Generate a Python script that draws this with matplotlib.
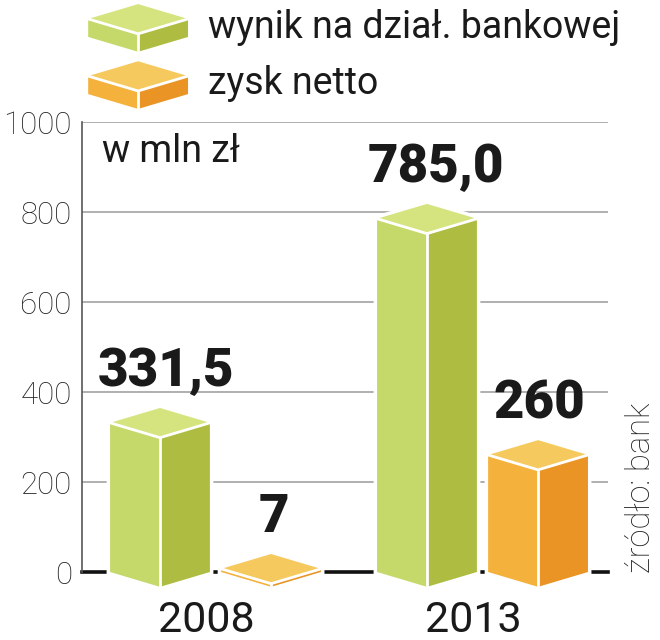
import matplotlib
matplotlib.use("Agg")
import matplotlib.pyplot as plt
from matplotlib.patches import Polygon

plt.rcParams['font.family'] = ['Roboto', 'DejaVu Sans']

years = ["2008", "2013"]
wynik = [331.5, 785.0]
zysk = [7, 260]
wynik_labels = ["331,5", "785,0"]
zysk_labels = ["7", "260"]
y_ticks = [0, 200, 400, 600, 800, 1000]
legend_names = ["wynik na dział. bankowej", "zysk netto"]

green = ("#d6e47f", "#c5d96b", "#aebd42")
orange = ("#f6c95e", "#f4b13c", "#e99425")

W, H = 660, 640
half = 0.187      # half a bar width, in group spacings
off = 0.208       # bar centre from group centre
depth = 33        # how far the top face goes up/down, in chart units


def block(ax, c, base, top, colors, halo=True):
    # one fake 3d block: top face, two side faces, white seams
    hw = half
    if halo:
        ax.add_patch(Polygon([(c-hw, base), (c-hw, top), (c, top+depth), (c+hw, top),
                              (c+hw, base), (c, base-depth)], fc='white', ec='white',
                             lw=5, clip_on=False, zorder=3))
    ax.add_patch(Polygon([(c-hw, top), (c, top+depth), (c+hw, top), (c, top-depth)],
                         fc=colors[0], ec='none', clip_on=False, zorder=4))
    ax.add_patch(Polygon([(c-hw, top), (c, top-depth), (c, base-depth), (c-hw, base)],
                         fc=colors[1], ec='none', clip_on=False, zorder=4))
    ax.add_patch(Polygon([(c+hw, top), (c, top-depth), (c, base-depth), (c+hw, base)],
                         fc=colors[2], ec='none', clip_on=False, zorder=4))
    ax.plot([c-hw, c, c+hw], [top, top-depth, top], c='white', lw=2, clip_on=False,
            zorder=5, solid_joinstyle='miter')
    ax.plot([c, c], [top-depth, base-depth], c='white', lw=2, clip_on=False, zorder=5)


fig = plt.figure(figsize=(W/100, H/100), dpi=100)
ax = fig.add_axes([81.5/W, (H-572)/H, (608-81.5)/W, 450/H])
ax.set_xlim(-0.502, 1.47)
ax.set_ylim(0, 1000)

for s in ['top', 'right', 'bottom']:
    ax.spines[s].set_visible(False)
ax.spines['left'].set_color('#55585a')
ax.spines['left'].set_linewidth(1.2)
ax.set_yticks(y_ticks)
ax.set_yticklabels([str(t) for t in y_ticks], fontsize=22.5, fontweight='light', color='#222222')
# year labels sit a bit left of the group centre in the original
ax.set_xticks([i-0.034 for i in range(len(years))])
ax.set_xticklabels(years, fontsize=31, color='#1a1a1a')
ax.tick_params(axis='both', length=0)
ax.tick_params(axis='y', pad=7)
ax.tick_params(axis='x', pad=20)
ax.grid(axis='y', color='#9a9a9a', lw=1.1)
ax.set_axisbelow(True)
ax.axhline(0, color='#111111', lw=2.6, zorder=2, clip_on=False)

label_shift = [[6, 3], [9, 1]]
for i in range(len(years)):
    block(ax, i-off, 0, wynik[i], green)
    block(ax, i+off, 0, zysk[i], orange)
    ax.annotate(wynik_labels[i], (i-off, wynik[i]+depth), xytext=(label_shift[i][0]*.72, 15.5),
                textcoords='offset points', ha='center', va='baseline', fontsize=38,
                fontweight='black', color='#1a1a1a', zorder=6)
    ax.annotate(zysk_labels[i], (i+off, zysk[i]+depth), xytext=(label_shift[i][1]*.72, 15.5),
                textcoords='offset points', ha='center', va='baseline', fontsize=38,
                fontweight='black', color='#1a1a1a', zorder=6)

# legend blocks sit above the plot area
block(ax, -0.29, 1189, 1229, green, halo=False)
block(ax, -0.29, 1062, 1102, orange, halo=False)

fig.text(208/W, 1-27/H, legend_names[0], fontsize=27, color='#1a1a1a', va='center', ha='left')
fig.text(208/W, 1-83/H, legend_names[1], fontsize=27, color='#1a1a1a', va='center', ha='left')
ax.text(102/W, 1-152/H, "w mln zł", transform=fig.transFigure, fontsize=27,
        color='#1a1a1a', va='center', ha='left')
fig.text(641/W, 1-573/H, "źródło: bank", rotation=90, fontsize=23.5, fontweight='light',
         color='#222222', va='bottom', ha='center')

fig.savefig("out.png", dpi=100)
plt.close()
